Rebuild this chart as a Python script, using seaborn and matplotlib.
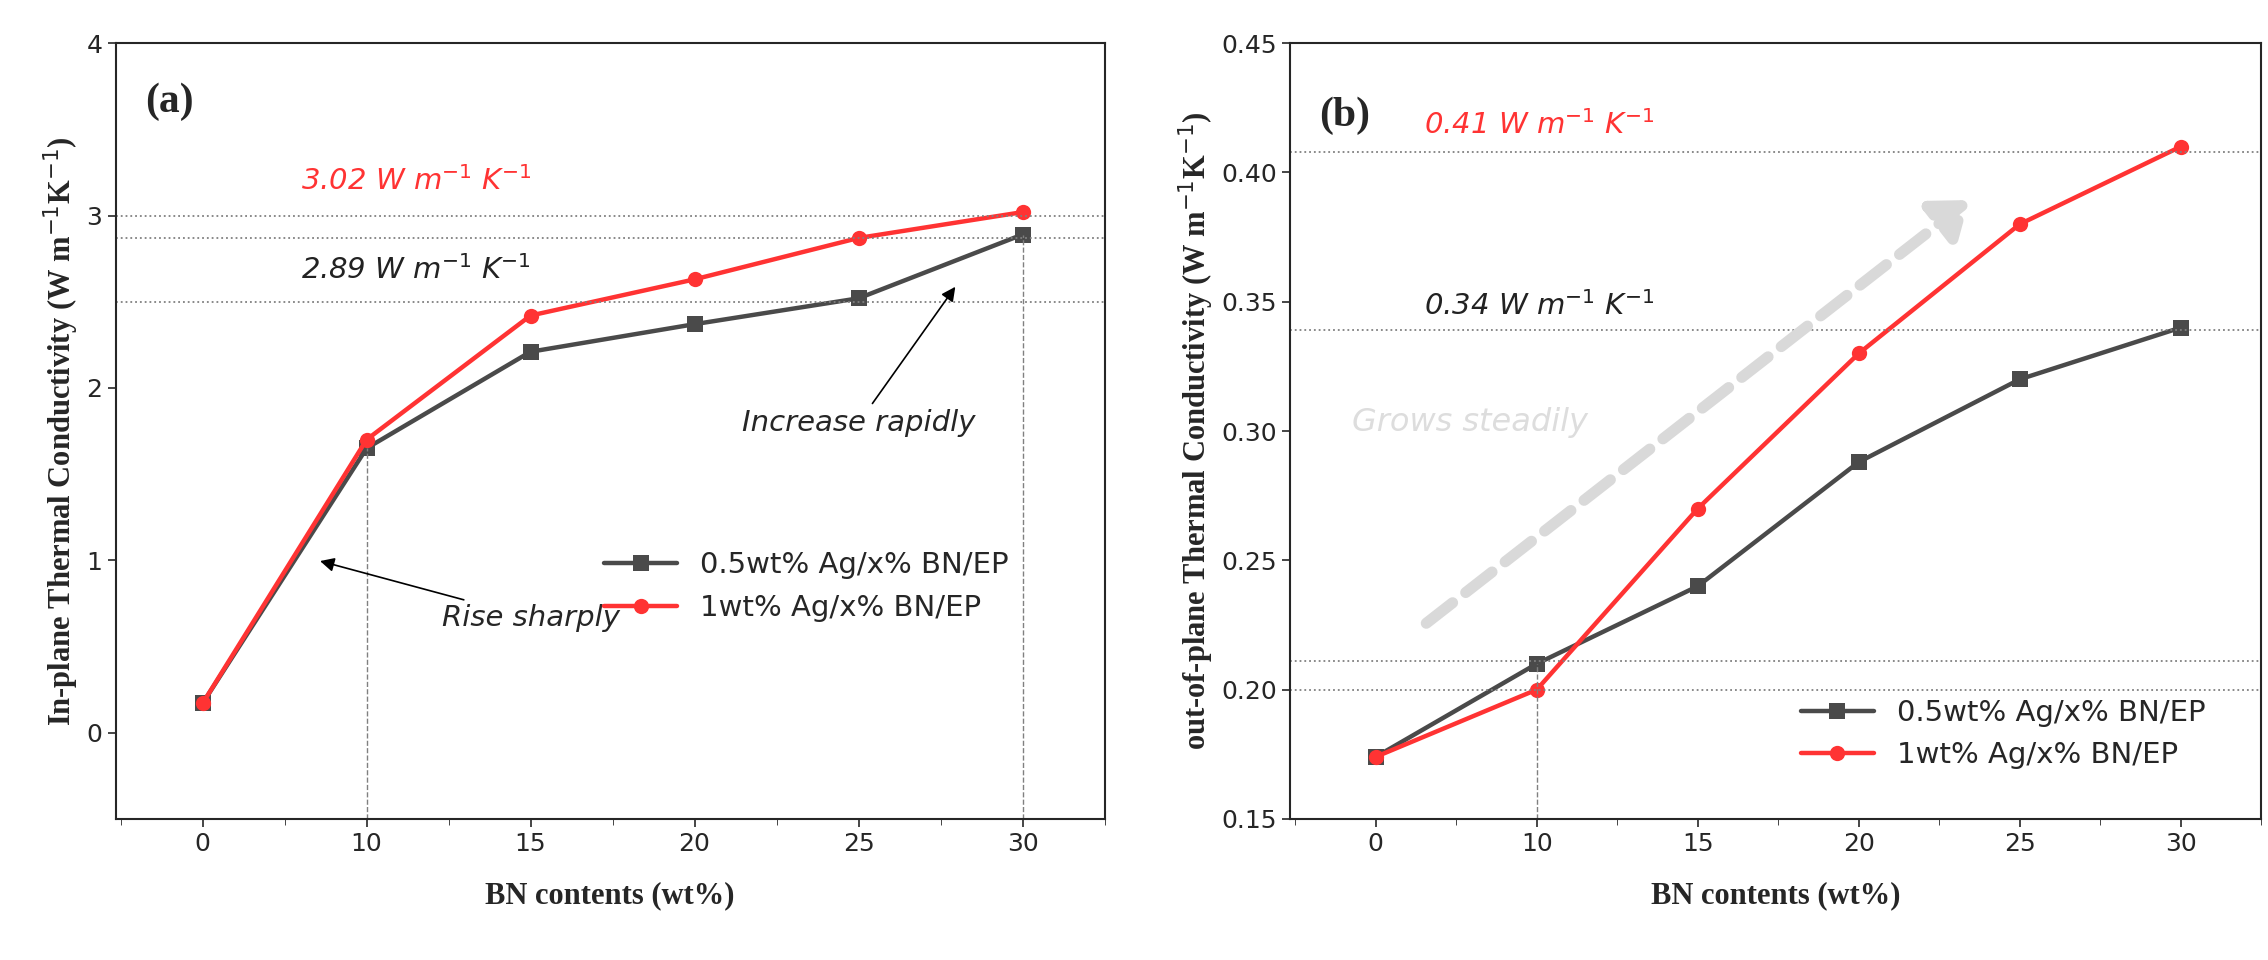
import matplotlib
matplotlib.use('Agg')
from matplotlib import pyplot as plt
import seaborn as sns
import pandas as pd

sns.set_style('ticks')
plt.rcParams['font.family'] = ['DejaVu Sans']

bn_labels = ['0', '10', '15', '20', '25', '30']
inplane_05 = [0.17, 1.65, 2.21, 2.37, 2.52, 2.89]
inplane_1 = [0.17, 1.70, 2.42, 2.63, 2.87, 3.02]
outplane_05 = [0.174, 0.21, 0.24, 0.288, 0.32, 0.34]
outplane_1 = [0.174, 0.20, 0.27, 0.33, 0.38, 0.41]
series_names = ['0.5wt% Ag/x% BN/EP', '1wt% Ag/x% BN/EP']

BLACK = '#4a4a4a'
RED = '#ff3333'
SERIF = 'Liberation Serif'

fig = plt.figure(figsize=(22.68, 9.6), dpi=100)
ax1 = fig.add_axes([0.051, 0.147, 0.436, 0.808])
ax2 = fig.add_axes([0.569, 0.147, 0.428, 0.808])


def panel(ax, low, high):
    pos = list(range(len(bn_labels)))
    df = pd.DataFrame({'pos': pos * 2, 'val': low + high,
                       'series': [series_names[0]] * 6 + [series_names[1]] * 6})
    sns.lineplot(data=df, x='pos', y='val', hue='series', style='series',
                 palette=[BLACK, RED], markers=['s', 'o'], dashes=False,
                 markersize=11, linewidth=3.2, markeredgewidth=0, ax=ax)
    ax.set_xlim(-0.53, 5.5)
    ax.set_xticks(pos)
    ax.set_xticklabels(bn_labels)
    ax.set_xticks([p + 0.5 for p in range(-1, 6)], minor=True)
    ax.tick_params(labelsize=18, length=6, width=1.2)
    ax.tick_params(which='minor', length=4)
    for s in ax.spines.values():
        s.set_linewidth(1.5)
    ax.set_xlabel('BN contents (wt%)', family=SERIF, fontweight='bold', fontsize=22, labelpad=18)
    ax.legend(loc='lower right', bbox_to_anchor=(0.97, 0.03) if ax is ax2 else (0.93, 0.22),
              frameon=False, fontsize=21, handlelength=2.5)


panel(ax1, inplane_05, inplane_1)
ax1.set_ylim(-0.5, 4)
ax1.set_yticks([0, 1, 2, 3, 4])
ax1.set_ylabel('In-plane Thermal Conductivity (W m$^{\\mathsf{-1}}$K$^{\\mathsf{-1}}$)', family=SERIF,
               fontweight='bold', fontsize=22)
for yv in [3.0, 2.87, 2.5]:
    ax1.axhline(yv, color='gray', ls=':', lw=1.3)
ax1.plot([1, 1], [-0.5, inplane_05[1]], color='gray', ls='--', lw=1)
ax1.plot([5, 5], [-0.5, inplane_05[5]], color='gray', ls='--', lw=1)
ax1.text(-0.35, 3.6, '(a)', family=SERIF, fontweight='bold', fontsize=30)
ax1.text(0.6, 3.15, '3.02 W m$^{-1}$ K$^{-1}$', color=RED, style='italic', fontsize=21)
ax1.text(0.6, 2.63, '2.89 W m$^{-1}$ K$^{-1}$', color='#222222', style='italic', fontsize=21)
ax1.annotate('Increase rapidly', xy=(4.6, 2.6), xytext=(4.0, 1.75), fontsize=21, style='italic',
             ha='center', arrowprops=dict(arrowstyle='-|>', color='black', lw=1.2))
ax1.annotate('Rise sharply', xy=(0.7, 1.0), xytext=(2.0, 0.62), fontsize=21, style='italic',
             ha='center', arrowprops=dict(arrowstyle='-|>', color='black', lw=1.2))

panel(ax2, outplane_05, outplane_1)
ax2.set_ylim(0.15, 0.45)
ax2.set_yticks([0.15, 0.20, 0.25, 0.30, 0.35, 0.40, 0.45])
ax2.set_yticklabels(['0.15', '0.20', '0.25', '0.30', '0.35', '0.40', '0.45'])
ax2.set_ylabel('out-of-plane Thermal Conductivity (W m$^{\\mathsf{-1}}$K$^{\\mathsf{-1}}$)', family=SERIF,
               fontweight='bold', fontsize=22)
for yv in [0.408, 0.339, 0.211, 0.2]:
    ax2.axhline(yv, color='gray', ls=':', lw=1.3)
ax2.plot([1, 1], [0.15, outplane_05[1]], color='gray', ls='--', lw=1)
ax2.text(-0.35, 0.418, '(b)', family=SERIF, fontweight='bold', fontsize=30)
ax2.text(0.3, 0.415, '0.41 W m$^{-1}$ K$^{-1}$', color=RED, style='italic', fontsize=21)
ax2.text(0.3, 0.345, '0.34 W m$^{-1}$ K$^{-1}$', color='#222222', style='italic', fontsize=21)
ax2.text(-0.15, 0.30, 'Grows steadily', color='#dddddd', style='italic', fontsize=23)
ax2.annotate('', xy=(3.7, 0.39), xytext=(0.3, 0.225),
             arrowprops=dict(arrowstyle='-|>,head_width=1.5,head_length=2.0', color='#d9d9d9',
                             lw=8, linestyle=(0, (3, 1.5))))

fig.savefig('out.png', dpi=100)
